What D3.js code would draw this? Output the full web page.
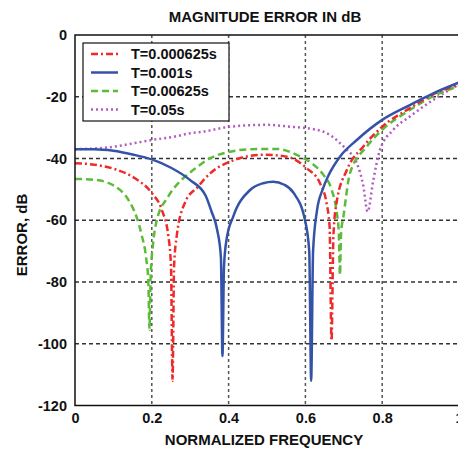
<!DOCTYPE html>
<html>
<head>
<meta charset="utf-8">
<script src="https://cdn.jsdelivr.net/npm/d3@7"></script>
<style>
  body { margin: 0; background: #fff; }
  text { font-family: "Liberation Sans", Arial, sans-serif; font-weight: bold; fill: #111; }
</style>
</head>
<body>
<script>
// series (normalized frequency, error dB)
var freqA = [0, 0.05, 0.11, 0.156, 0.2, 0.226, 0.243, 0.25, 0.254, 0.258, 0.265, 0.286, 0.321, 0.352, 0.404, 0.49, 0.551, 0.603, 0.638, 0.655, 0.663, 0.668, 0.673, 0.681, 0.708, 0.751, 0.8, 0.872, 0.93, 1.0];
var dbA   = [-41.5, -42, -43.7, -46.4, -51.2, -56.6, -65, -75, -112, -75, -65, -54.4, -49, -44.8, -41, -38.8, -39.4, -43.1, -48, -54.4, -62, -99, -65, -54.4, -43.7, -36.1, -29.7, -23.7, -19.4, -16];

var freqB = [0, 0.05, 0.1, 0.15, 0.2, 0.25, 0.3, 0.34, 0.355, 0.37, 0.38, 0.384, 0.388, 0.395, 0.412, 0.456, 0.49, 0.516, 0.545, 0.569, 0.599, 0.61, 0.615, 0.62, 0.63, 0.645, 0.66, 0.69, 0.734, 0.8, 0.872, 0.933, 1.0];
var dbB   = [-37, -37, -37.5, -38.7, -40.3, -43, -47, -52, -57, -63, -72, -104, -75, -66, -58.8, -50.2, -48, -47.5, -48.5, -51.1, -60, -70, -112, -70, -57, -50, -45.5, -39.4, -34, -27.5, -22.7, -18.9, -15.4];

var freqC = [0, 0.052, 0.104, 0.139, 0.16, 0.174, 0.185, 0.191, 0.194, 0.197, 0.203, 0.213, 0.243, 0.286, 0.3, 0.352, 0.404, 0.456, 0.525, 0.577, 0.621, 0.647, 0.668, 0.681, 0.687, 0.69, 0.693, 0.699, 0.716, 0.76, 0.8, 0.872, 0.93, 1.0];
var dbC   = [-46.6, -46.9, -49, -53.4, -58.8, -65, -72, -80, -95.5, -78, -68, -60, -52.3, -45.9, -44.5, -39.9, -37.8, -37, -36.9, -38.8, -42, -45.3, -50, -57, -64, -77.7, -64, -58.8, -44.8, -36.1, -30.7, -24.3, -20, -16.5];

var freqD = [0, 0.087, 0.156, 0.2, 0.26, 0.3, 0.334, 0.404, 0.499, 0.56, 0.629, 0.664, 0.69, 0.708, 0.734, 0.751, 0.762, 0.777, 0.794, 0.829, 0.872, 0.933, 1.0];
var dbD   = [-37, -36.4, -35, -34, -32.9, -31.8, -31.3, -29.7, -29.1, -29.7, -30.7, -32.4, -35, -37.2, -41.5, -49, -57.2, -46.9, -37.2, -30.7, -26.4, -21, -16];

var legendLabels = ["T=0.000625s", "T=0.001s", "T=0.00625s", "T=0.05s"];
var xTicks = [0, 0.2, 0.4, 0.6, 0.8, 1];
var yTicks = [0, -20, -40, -60, -80, -100, -120];

var width = 458, height = 450;
var plotL = 75, plotT = 35, plotR = 459, plotB = 405.5;

var svg = d3.select("body").append("svg")
    .attr("width", width)
    .attr("height", height);

var x = d3.scaleLinear().domain([0, 1]).range([plotL, plotR]);
var y = d3.scaleLinear().domain([-120, 0]).range([plotB, plotT]);

// grid
svg.append("g").selectAll("line").data(xTicks.slice(1, -1)).enter().append("line")
    .attr("x1", function(d) { return x(d); }).attr("x2", function(d) { return x(d); })
    .attr("y1", plotT).attr("y2", plotB)
    .attr("stroke", "#555").attr("stroke-width", 1.5).attr("stroke-dasharray", "3,3");
svg.append("g").selectAll("line").data(yTicks.slice(1, -1)).enter().append("line")
    .attr("x1", plotL).attr("x2", plotR)
    .attr("y1", function(d) { return y(d); }).attr("y2", function(d) { return y(d); })
    .attr("stroke", "#333").attr("stroke-width", 1.5).attr("stroke-dasharray", "4,3");

var series = [
    {f: freqA, v: dbA, color: "#ee2a2a", dash: "7,3,2,3"},
    {f: freqB, v: dbB, color: "#3453a8", dash: null},
    {f: freqC, v: dbC, color: "#5cbc3a", dash: "7,4"},
    {f: freqD, v: dbD, color: "#b25cc2", dash: "2,3"}
];

var line = d3.line()
    .x(function(d) { return x(d[0]); })
    .y(function(d) { return y(d[1]); })
    .curve(d3.curveMonotoneX);

// draw order: purple, green, red, blue on top
[3, 2, 0, 1].forEach(function(i) {
    var s = series[i];
    svg.append("path")
        .datum(d3.zip(s.f, s.v))
        .attr("d", line)
        .attr("fill", "none")
        .attr("stroke", s.color)
        .attr("stroke-width", 2.5)
        .attr("stroke-dasharray", s.dash);
});

// frame
svg.append("path")
    .attr("d", "M" + plotR + "," + plotT + "H" + plotL + "V" + plotB + "H" + plotR)
    .attr("fill", "none").attr("stroke", "#111").attr("stroke-width", 1.5);

// axes (plain hyphen for negatives, like the original)
var yAxis = svg.append("g").attr("transform", "translate(" + plotL + ",0)")
    .call(d3.axisLeft(y).tickValues(yTicks).tickSize(0).tickPadding(8)
        .tickFormat(function(d) { return String(d); }));
var xAxis = svg.append("g").attr("transform", "translate(0," + plotB + ")")
    .call(d3.axisBottom(x).tickValues(xTicks).tickSize(0).tickPadding(7)
        .tickFormat(function(d) { return String(d); }));
[xAxis, yAxis].forEach(function(a) {
    a.select(".domain").remove();
    a.selectAll("text").attr("font-size", 14.5).attr("font-family", null).attr("fill", "#111");
});

// titles
svg.append("text").attr("x", 265).attr("y", 22).attr("text-anchor", "middle")
    .attr("font-size", 15).text("MAGNITUDE ERROR IN dB");
svg.append("text").attr("x", 264).attr("y", 445).attr("text-anchor", "middle")
    .attr("font-size", 15).text("NORMALIZED FREQUENCY");
svg.append("text").attr("transform", "translate(27,235) rotate(-90)").attr("text-anchor", "middle")
    .attr("font-size", 15).text("ERROR, dB");

// legend
var lg = svg.append("g");
lg.append("rect").attr("x", 83).attr("y", 43).attr("width", 146).attr("height", 78)
    .attr("fill", "#fff").attr("stroke", "#111").attr("stroke-width", 1.2);
legendLabels.forEach(function(name, i) {
    var yy = 54 + i * 18.5;
    lg.append("line").attr("x1", 91).attr("x2", 118).attr("y1", yy).attr("y2", yy)
        .attr("stroke", series[i].color).attr("stroke-width", 2.5)
        .attr("stroke-dasharray", series[i].dash);
    lg.append("text").attr("x", 131).attr("y", yy + 5).attr("font-size", 14.5).text(name);
});
</script>
</body>
</html>
